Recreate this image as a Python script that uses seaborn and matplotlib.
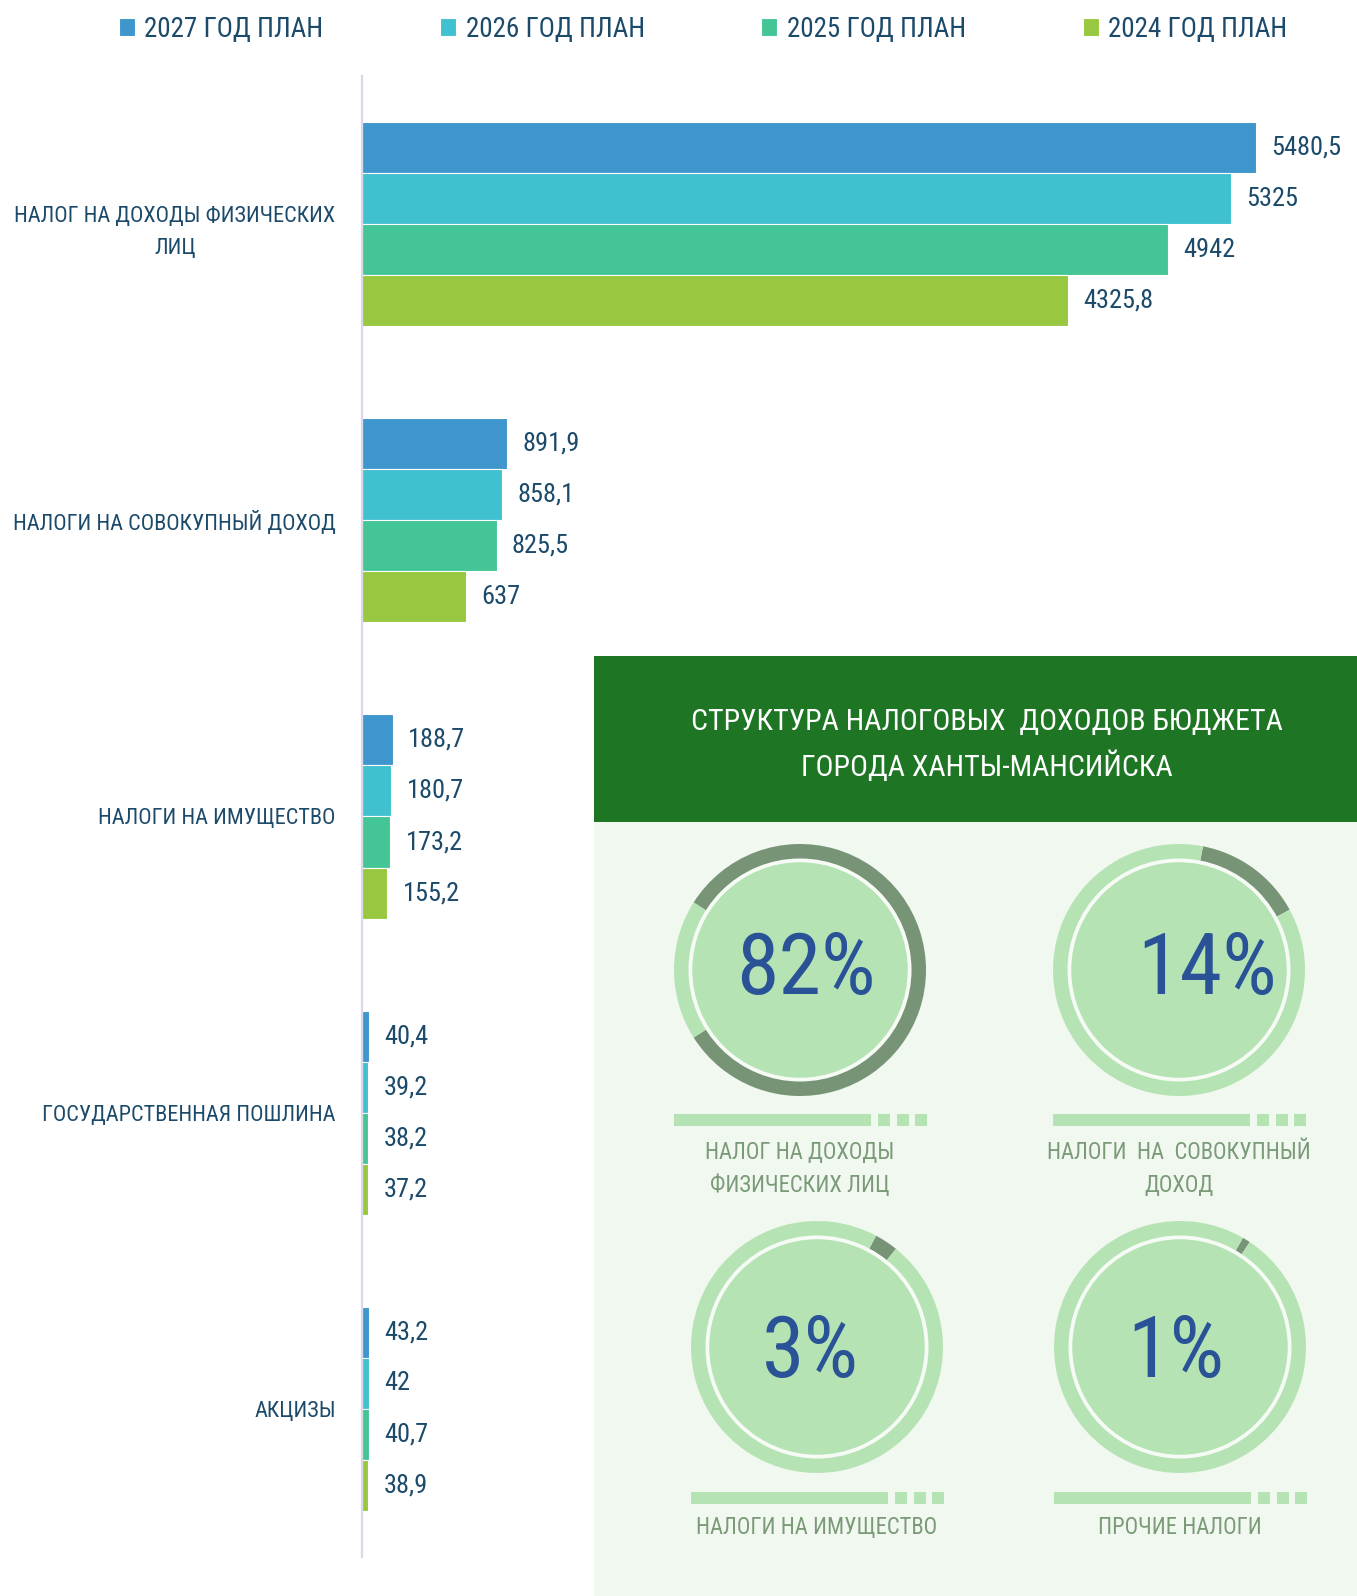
import matplotlib
matplotlib.use("Agg")
import matplotlib.pyplot as plt
import seaborn as sns
import pandas as pd
from matplotlib.patches import Rectangle, Circle

# ---------------- data ----------------
categories = [
    "НАЛОГ НА ДОХОДЫ ФИЗИЧЕСКИХ\nЛИЦ",
    "НАЛОГИ НА СОВОКУПНЫЙ ДОХОД",
    "НАЛОГИ НА ИМУЩЕСТВО",
    "ГОСУДАРСТВЕННАЯ ПОШЛИНА",
    "АКЦИЗЫ",
]
series_names = ["2027 ГОД ПЛАН", "2026 ГОД ПЛАН", "2025 ГОД ПЛАН", "2024 ГОД ПЛАН"]
values_2027 = [5480.5, 891.9, 188.7, 40.4, 43.2]
values_2026 = [5325, 858.1, 180.7, 39.2, 42]
values_2025 = [4942, 825.5, 173.2, 38.2, 40.7]
values_2024 = [4325.8, 637, 155.2, 37.2, 38.9]

share_values = [82, 14, 3, 1]
share_labels = ["НАЛОГ НА ДОХОДЫ\nФИЗИЧЕСКИХ ЛИЦ", "НАЛОГИ  НА  СОВОКУПНЫЙ\nДОХОД",
                "НАЛОГИ НА ИМУЩЕСТВО", "ПРОЧИЕ НАЛОГИ"]
panel_title = "СТРУКТУРА НАЛОГОВЫХ  ДОХОДОВ БЮДЖЕТА\nГОРОДА ХАНТЫ-МАНСИЙСКА"

# ---------------- style ----------------
W, H = 1357, 1596
sns.set_style("white")
plt.rcParams["font.family"] = ["Roboto Condensed", "Liberation Sans Narrow", "DejaVu Sans"]
TXT = "#1c4a6a"
colors = ["#3f96cc", "#3fc1cf", "#43c595", "#97c83f"]

fig = plt.figure(figsize=(W / 100, H / 100), dpi=100)
fig.patch.set_facecolor("white")

def fx(px):
    return px / W

def fy(py):
    return 1 - py / H

# ---------------- bar chart ----------------
rows = []
for name, vals in zip(series_names, [values_2027, values_2026, values_2025, values_2024]):
    for c, v in zip(categories, vals):
        rows.append({"cat": c, "val": v, "year": name})
df = pd.DataFrame(rows)

ax = fig.add_axes([fx(362), fy(1557), fx(W - 362), (1557 - 76) / H])
sns.barplot(data=df, y="cat", x="val", hue="year", order=categories,
            hue_order=series_names, palette=colors, width=0.69, orient="h",
            edgecolor="white", linewidth=0.8, saturation=1, ax=ax)
ax.set_xlim(0, 6100)
ax.set_ylim(4.5, -0.5)
ax.set_xlabel("")
ax.set_ylabel("")
ax.set_xticks([])
for s in ["top", "right", "bottom"]:
    ax.spines[s].set_visible(False)
ax.spines["left"].set_color("#d9d9e9")
ax.spines["left"].set_linewidth(1.6)
ax.tick_params(axis="y", length=0, pad=19, labelsize=16, labelcolor=TXT)
for lab in ax.get_yticklabels():
    lab.set_multialignment("center")
    lab.set_linespacing(1.7)

for cont in ax.containers:
    labels = [f"{b.get_width():g}".replace(".", ",") for b in cont]
    ax.bar_label(cont, labels=labels, padding=11, fontsize=19, color=TXT)

sns.move_legend(ax, "center", bbox_to_anchor=(fx(703), fy(29)),
                bbox_transform=fig.transFigure, ncol=4, frameon=False, title=None,
                handlelength=0.6, handleheight=0.6, handletextpad=0.35,
                columnspacing=4.3, fontsize=19.5, labelcolor=TXT)

# ---------------- panel ----------------
pax = fig.add_axes([0, 0, 1, 1], zorder=1)
pax.set_xlim(0, W)
pax.set_ylim(H, 0)
pax.axis("off")
pax.patch.set_alpha(0)
pax.add_patch(Rectangle((594, 822), W - 594, H - 822, color="#f1f8f0", lw=0))
pax.add_patch(Rectangle((594, 656), W - 594, 822 - 656, color="#1e7523", lw=0))

fig.text(fx(987), fy(745), panel_title, color="white", fontsize=21.5,
         ha="center", va="center", linespacing=1.6, zorder=5)

LIGHT = "#b5e3b4"
DARK = "#789476"
centers = [(800, 970), (1179, 970), (817, 1347), (1180, 1347)]
starts = [147.6, 79, 62, 60]
text_pos = [(806, 970), (1207, 970), (810, 1354), (1176, 1354)]
label_pos = [(800, 1169), (1179, 1169), (817, 1528), (1180, 1528)]
bar_y = [1114, 1114, 1492, 1492]
R = 126

for i, (share, (cx, cy)) in enumerate(zip(share_values, centers)):
    dax = fig.add_axes([fx(cx - R), fy(cy + R), 2 * R / W, 2 * R / H], zorder=2)
    dax.pie([share, 100 - share], colors=[DARK, LIGHT], startangle=starts[i],
            counterclock=False, radius=1, wedgeprops=dict(width=0.12, lw=0))
    dax.add_patch(Circle((0, 0), 0.885, color="#f6fbf5", lw=0))
    dax.add_patch(Circle((0, 0), 0.855, color=LIGHT, lw=0))
    dax.set_xlim(-1, 1)
    dax.set_ylim(-1, 1)
    dax.set_aspect("equal")
    dax.axis("off")

    tx, ty = text_pos[i]
    fig.text(fx(tx), fy(ty), f"{share}%", color="#2a5296", fontsize=62,
             ha="center", va="center", zorder=5)
    lx, ly = label_pos[i]
    fig.text(fx(lx), fy(ly), share_labels[i], color="#7a9a78", fontsize=16.3,
             ha="center", va="center", linespacing=1.6, zorder=5)
    # decorative bar under donut
    x0 = cx - R
    pax.add_patch(Rectangle((x0, bar_y[i]), 197, 12, color=LIGHT, lw=0))
    for k in range(3):
        pax.add_patch(Rectangle((x0 + 204 + k * 18.5, bar_y[i]), 12, 12, color=LIGHT, lw=0))

fig.savefig("out.png", dpi=100, facecolor="white")
